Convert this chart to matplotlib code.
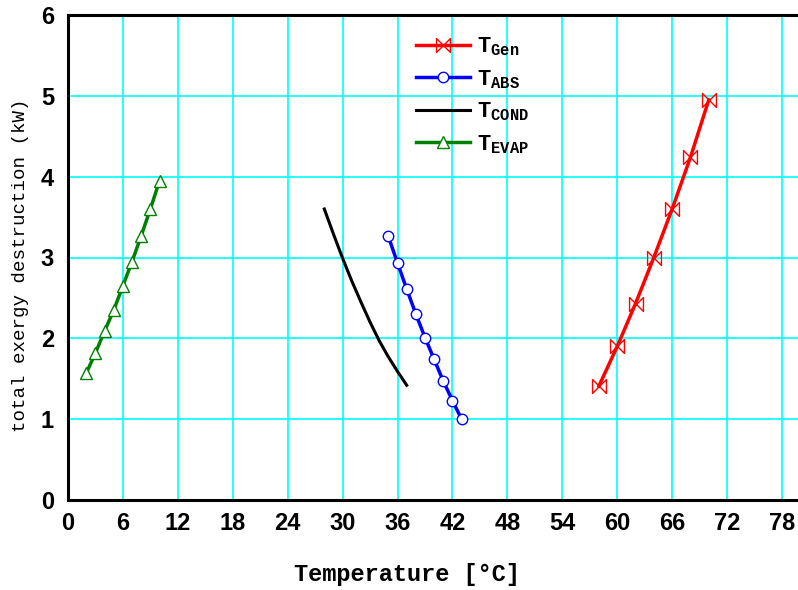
import matplotlib
matplotlib.use("Agg")
import matplotlib.pyplot as plt
from matplotlib.path import Path

plt.rcParams['mathtext.fontset'] = 'custom'
plt.rcParams['mathtext.rm'] = 'Liberation Mono:bold'
plt.rcParams['mathtext.it'] = 'Liberation Mono:bold'
plt.rcParams['mathtext.bf'] = 'Liberation Mono:bold'

# Generator temperature sweep
t_gen = [58, 60, 62, 64, 66, 68, 70]
ed_gen = [1.41, 1.90, 2.43, 3.00, 3.60, 4.24, 4.95]

# Absorber temperature sweep
t_abs = [35, 36, 37, 38, 39, 40, 41, 42, 43]
ed_abs = [3.26, 2.93, 2.61, 2.30, 2.01, 1.74, 1.47, 1.23, 1.00]

# Condenser temperature sweep
t_cond = [28, 29, 30, 31, 32, 33, 34, 35, 36, 37]
ed_cond = [3.60, 3.29, 2.99, 2.71, 2.45, 2.20, 1.97, 1.77, 1.59, 1.42]

# Evaporator temperature sweep
t_evap = [2, 3, 4, 5, 6, 7, 8, 9, 10]
ed_evap = [1.57, 1.82, 2.09, 2.35, 2.65, 2.95, 3.27, 3.60, 3.95]

x_ticks = [0, 6, 12, 18, 24, 30, 36, 42, 48, 54, 60, 66, 72, 78]
y_ticks = [0, 1, 2, 3, 4, 5, 6]

# sideways hourglass ("bowtie") marker
bowtie = Path([(-1, 1), (1, -1), (1, 1), (-1, -1), (-1, 1)],
              [Path.MOVETO, Path.LINETO, Path.LINETO, Path.LINETO, Path.CLOSEPOLY])

fig = plt.figure(figsize=(7.98, 5.90), dpi=100)
ax = fig.add_axes([68 / 798, 90 / 590, 732.3 / 798, 485 / 590])

ax.plot(t_gen, ed_gen, color='red', lw=2.5, marker=bowtie, ms=10,
        mfc='none', mec='red', mew=1.0, label=r'$\mathrm{T}_{\mathrm{Gen}}$', zorder=3)
ax.plot(t_abs, ed_abs, color='blue', lw=2.5, marker='o', ms=7.5,
        mfc='white', mec='blue', mew=1.0, label=r'$\mathrm{T}_{\mathrm{ABS}}$', zorder=3)
ax.plot(t_cond, ed_cond, color='black', lw=2.2,
        label=r'$\mathrm{T}_{\mathrm{COND}}$', zorder=3)
ax.plot(t_evap, ed_evap, color='green', lw=2.5, marker='^', ms=9,
        mfc='white', mec='green', mew=1.0, label=r'$\mathrm{T}_{\mathrm{EVAP}}$', zorder=3)

ax.set_xlim(0, 80)
ax.set_ylim(0, 6)
ax.set_xticks(x_ticks)
ax.set_yticks(y_ticks)
ax.grid(True, color='#00FFFF', lw=1.2)
ax.set_axisbelow(True)

for side in ['left', 'bottom', 'top']:
    ax.spines[side].set_linewidth(2.2)
ax.spines['right'].set_visible(False)

ax.tick_params(axis='x', length=0, pad=9)
ax.tick_params(axis='y', length=0, pad=10)
for lab in ax.get_xticklabels() + ax.get_yticklabels():
    lab.set_fontfamily('Liberation Sans')
    lab.set_fontweight('bold')
    lab.set_fontsize(17)

fig.text(407 / 798, 1 - 574 / 590, 'Temperature [°C]', fontfamily='Liberation Mono',
         fontweight='bold', fontsize=17, ha='center', va='center')
ax.set_ylabel('total exergy destruction (kW)', fontfamily='Liberation Mono',
              fontweight='normal', fontsize=13.8)
ax.yaxis.set_label_coords((29 - 68) / 732.3, (500 - 265) / 485)

leg = ax.legend(loc='upper left', bbox_to_anchor=(0.454, 0.99), frameon=False,
                prop={'size': 16}, handlelength=2.45, handletextpad=0.3,
                labelspacing=0.45, borderpad=0.2)

fig.savefig('out.png', dpi=100)
